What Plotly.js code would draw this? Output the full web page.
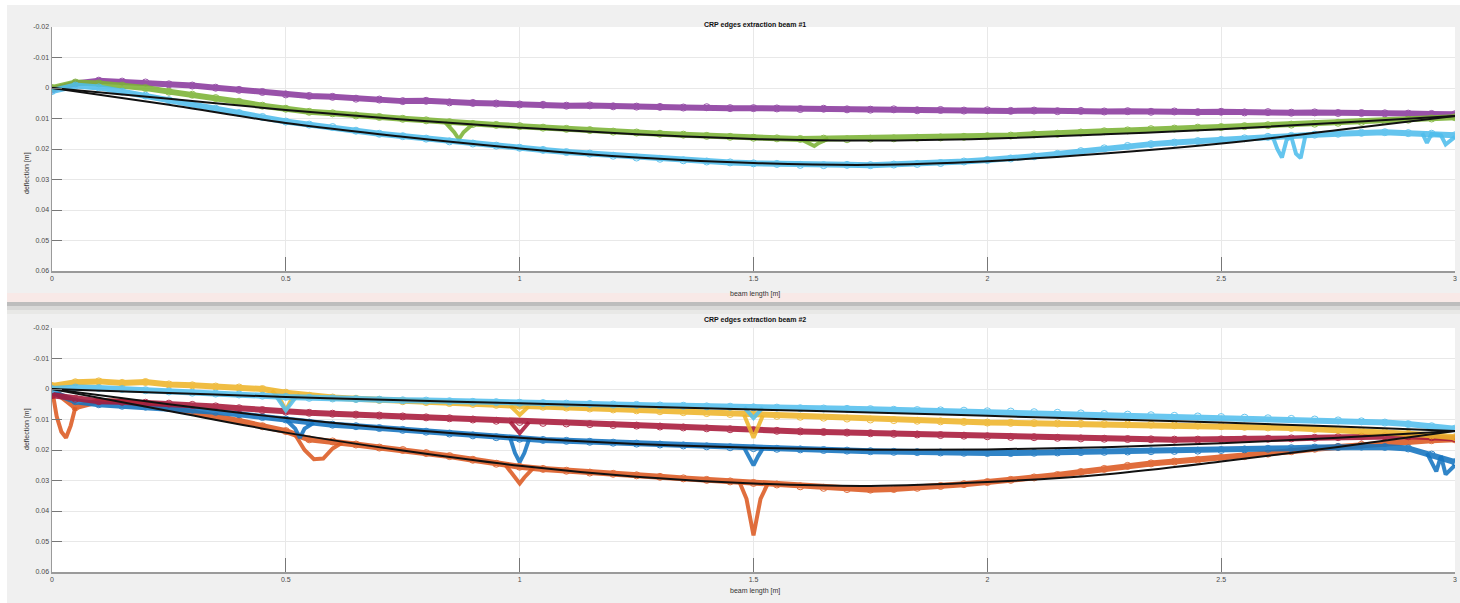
<!DOCTYPE html>
<html>
<head>
<meta charset="utf-8">
<script src="https://cdn.plot.ly/plotly-3.0.1.min.js"></script>
<style>
html,body{margin:0;padding:0;background:#ffffff;}
#chart{width:1460px;height:603px;}
</style>
</head>
<body>
<div id="chart"></div>
<script>
// ---------- data ----------
const titles = ["CRP edges extraction beam #1", "CRP edges extraction beam #2"];
const xLabel = "beam length [m]";
const yLabel = "deflection [m]";
const xTickVals = [0, 0.5, 1, 1.5, 2, 2.5, 3];
const xTickText = ["0", "0.5", "1", "1.5", "2", "2.5", "3"];
const yTickVals = [-0.02, -0.01, 0, 0.01, 0.02, 0.03, 0.04, 0.05, 0.06];
const yTickText = ["-0.02", "-0.01", "0", "0.01", "0.02", "0.03", "0.04", "0.05", "0.06"];

const X = [0,0.05,0.1,0.15,0.2,0.25,0.3,0.35,0.4,0.45,0.5,0.55,0.6,0.65,0.7,0.75,0.8,0.85,0.9,0.95,
  1,1.05,1.1,1.15,1.2,1.25,1.3,1.35,1.4,1.45,1.5,1.55,1.6,1.65,1.7,1.75,1.8,1.85,1.9,1.95,
  2,2.05,2.1,2.15,2.2,2.25,2.3,2.35,2.4,2.45,2.5,2.55,2.6,2.65,2.7,2.75,2.8,2.85,2.9,2.95,3];
const XM = [0,0.25,0.5,0.75,1,1.25,1.5,1.75,2,2.25,2.5,2.75,3];

// beam #1 measured edges
const purple1 = [0.0005,-0.0015,-0.0024,-0.0021,-0.0018,-0.0012,-0.0008,-0.0001,0.0006,0.0013,0.0021,0.0026,0.0029,0.0035,0.0038,0.0043,0.0042,0.0047,0.0049,0.0051,
  0.0054,0.0055,0.0058,0.0057,0.0060,0.0061,0.0062,0.0064,0.0063,0.0066,0.0066,0.0067,0.0069,0.0068,0.0070,0.0071,0.0070,0.0073,0.0072,0.0074,
  0.0073,0.0075,0.0074,0.0076,0.0075,0.0077,0.0076,0.0078,0.0077,0.0079,0.0078,0.0080,0.0079,0.0081,0.0080,0.0082,0.0082,0.0083,0.0084,0.0085,0.0086];
const green1 = [0.0,-0.0018,-0.0015,-0.0008,0.0,0.0012,0.0022,0.0033,0.0045,0.0058,0.0068,0.0078,0.0083,0.0090,0.0095,0.0101,0.0106,0.0112,0.0118,0.0121,
  0.0125,0.0130,0.0134,0.0138,0.0143,0.0146,0.0150,0.0153,0.0157,0.0160,0.0163,0.0165,0.0167,0.0166,0.0168,0.0166,0.0165,0.0163,0.0162,0.0160,
  0.0158,0.0156,0.0152,0.0150,0.0146,0.0142,0.0139,0.0135,0.0133,0.0130,0.0128,0.0125,0.0122,0.0120,0.0117,0.0114,0.0111,0.0108,0.0104,0.0100,0.0096];
const cyan1 = [0.0010,-0.0008,-0.0002,0.0012,0.0025,0.0040,0.0056,0.0068,0.0082,0.0095,0.0110,0.0120,0.0128,0.0140,0.0150,0.0158,0.0166,0.0175,0.0182,0.0189,
  0.0196,0.0203,0.0210,0.0215,0.0222,0.0228,0.0232,0.0237,0.0241,0.0244,0.0247,0.0249,0.0252,0.0253,0.0252,0.0253,0.0251,0.0249,0.0246,0.0241,
  0.0236,0.0231,0.0224,0.0216,0.0207,0.0198,0.0190,0.0184,0.0179,0.0174,0.0170,0.0165,0.0160,0.0157,0.0153,0.0150,0.0147,0.0145,0.0148,0.0150,0.0155];
// beam #1 model curves
const greenModel1 = [0,0.0035,0.0072,0.0103,0.0130,0.0152,0.0167,0.0172,0.0166,0.0152,0.0135,0.0114,0.0092];
const cyanModel1  = [0,0.0055,0.0115,0.0160,0.0198,0.0228,0.0246,0.0252,0.0240,0.0215,0.0182,0.0138,0.0092];

// beam #2 measured edges
const lightBlue2 = [0.0,-0.0005,-0.0003,0.0,0.0004,0.0008,0.0012,0.0015,0.0018,0.0022,0.0026,0.0029,0.0031,0.0033,0.0035,0.0037,0.0038,0.0040,0.0042,0.0043,
  0.0045,0.0046,0.0048,0.0049,0.0051,0.0052,0.0054,0.0055,0.0057,0.0058,0.0060,0.0061,0.0063,0.0064,0.0065,0.0066,0.0068,0.0069,0.0070,0.0071,
  0.0073,0.0074,0.0076,0.0078,0.0080,0.0082,0.0084,0.0086,0.0088,0.0090,0.0092,0.0094,0.0096,0.0098,0.0100,0.0103,0.0106,0.0110,0.0115,0.0122,0.0130];
const yellow2 = [-0.0010,-0.0022,-0.0025,-0.0020,-0.0023,-0.0015,-0.0012,-0.0008,-0.0005,0.0,0.0012,0.0022,0.0028,0.0032,0.0036,0.0040,0.0043,0.0046,0.0049,0.0052,
  0.0055,0.0058,0.0061,0.0064,0.0067,0.0070,0.0073,0.0076,0.0079,0.0082,0.0085,0.0088,0.0091,0.0094,0.0097,0.0100,0.0102,0.0104,0.0106,0.0108,
  0.0110,0.0111,0.0112,0.0113,0.0114,0.0115,0.0116,0.0117,0.0119,0.0120,0.0122,0.0124,0.0126,0.0128,0.0131,0.0134,0.0138,0.0142,0.0147,0.0152,0.0158];
const red2 = [0.0020,0.0032,0.0040,0.0042,0.0045,0.0048,0.0052,0.0057,0.0063,0.0069,0.0074,0.0078,0.0081,0.0084,0.0087,0.0090,0.0093,0.0096,0.0100,0.0104,
  0.0108,0.0111,0.0113,0.0115,0.0118,0.0120,0.0123,0.0126,0.0129,0.0132,0.0135,0.0137,0.0139,0.0141,0.0143,0.0145,0.0147,0.0149,0.0151,0.0153,
  0.0155,0.0157,0.0158,0.0160,0.0162,0.0163,0.0164,0.0165,0.0166,0.0166,0.0165,0.0164,0.0163,0.0162,0.0160,0.0158,0.0156,0.0155,0.0155,0.0158,0.0162];
const blue2 = [0.0010,0.0040,0.0050,0.0055,0.0058,0.0062,0.0068,0.0075,0.0083,0.0092,0.0100,0.0110,0.0117,0.0122,0.0128,0.0134,0.0140,0.0146,0.0152,0.0158,
  0.0163,0.0167,0.0170,0.0173,0.0176,0.0179,0.0182,0.0185,0.0188,0.0191,0.0194,0.0196,0.0198,0.0200,0.0202,0.0204,0.0206,0.0207,0.0208,0.0209,
  0.0210,0.0210,0.0209,0.0208,0.0207,0.0206,0.0205,0.0204,0.0203,0.0202,0.0200,0.0198,0.0196,0.0194,0.0192,0.0190,0.0189,0.0190,0.0195,0.0215,0.0240];
const orange2 = [0.0,0.0060,0.0040,0.0042,0.0050,0.0062,0.0075,0.0090,0.0105,0.0122,0.0138,0.0165,0.0172,0.0182,0.0192,0.0200,0.0210,0.0220,0.0232,0.0245,
  0.0255,0.0262,0.0268,0.0274,0.0278,0.0283,0.0288,0.0293,0.0298,0.0303,0.0308,0.0313,0.0319,0.0324,0.0328,0.0330,0.0328,0.0324,0.0318,0.0312,
  0.0305,0.0298,0.0290,0.0282,0.0272,0.0262,0.0252,0.0244,0.0238,0.0232,0.0226,0.0220,0.0212,0.0204,0.0196,0.0190,0.0183,0.0177,0.0172,0.0168,0.0165];
// beam #2 model curves
const lightBlueModel2 = [0,0.0013,0.0026,0.0037,0.0047,0.0057,0.0067,0.0077,0.0088,0.0099,0.0110,0.0123,0.0138];
const blueModel2      = [0,0.0050,0.0095,0.0132,0.0160,0.0180,0.0193,0.0199,0.0198,0.0191,0.0178,0.0160,0.0138];
const orangeModel2    = [0,0.0072,0.0143,0.0202,0.0252,0.0288,0.0310,0.0318,0.0305,0.0280,0.0238,0.0190,0.0138];

// local dips / spikes
const greenDipX1 = [0.84,0.86,0.87,0.88,0.90];  const greenDipY1 = [0.0111,0.0145,0.0168,0.0145,0.0118];
const greenDipX2 = [1.60,1.62,1.63,1.64,1.66];  const greenDipY2 = [0.0167,0.0180,0.0190,0.0180,0.0166];
const cyanDipX1 = [2.61,2.62,2.63,2.64,2.65,2.66,2.67,2.68]; const cyanDipY1 = [0.0158,0.0200,0.0228,0.0170,0.0160,0.0215,0.0230,0.0157];
const cyanDipX2 = [2.93,2.94,2.95,2.97,2.98,3.0]; const cyanDipY2 = [0.0148,0.0180,0.0150,0.0155,0.0185,0.0160];
const orangeDipX0 = [0.0,0.01,0.02,0.03,0.04,0.05]; const orangeDipY0 = [0.0,0.0090,0.0140,0.0160,0.0120,0.0060];
const orangeDipX1 = [0.52,0.54,0.56,0.58,0.60,0.62]; const orangeDipY1 = [0.0150,0.0200,0.0230,0.0228,0.0195,0.0176];
const orangeDipX2 = [0.97,0.99,1.00,1.01,1.03]; const orangeDipY2 = [0.0250,0.0290,0.0310,0.0290,0.0258];
const orangeDipX3 = [1.47,1.485,1.495,1.50,1.505,1.515,1.53]; const orangeDipY3 = [0.0305,0.0360,0.0440,0.0480,0.0440,0.0360,0.0312];
const blueDipX1 = [0.50,0.52,0.53,0.54,0.56]; const blueDipY1 = [0.0100,0.0130,0.0160,0.0130,0.0111];
const blueDipX2 = [0.98,0.99,1.00,1.01,1.02]; const blueDipY2 = [0.0162,0.0210,0.0240,0.0210,0.0165];
const blueDipX3 = [1.48,1.49,1.50,1.51,1.52]; const blueDipY3 = [0.0193,0.0220,0.0250,0.0220,0.0195];
const blueDipX4 = [2.94,2.96,2.97,2.98,3.0]; const blueDipY4 = [0.0210,0.0270,0.0220,0.0280,0.0250];
const lightBlueDipX1 = [0.48,0.50,0.52]; const lightBlueDipY1 = [0.0025,0.0070,0.0030];
const lightBlueDipX2 = [1.48,1.50,1.52]; const lightBlueDipY2 = [0.0060,0.0095,0.0061];
const yellowDipX1 = [0.47,0.49,0.50,0.51,0.53]; const yellowDipY1 = [0.0005,0.0040,0.0070,0.0040,0.0018];
const yellowDipX2 = [0.98,1.00,1.02]; const yellowDipY2 = [0.0055,0.0085,0.0056];
const yellowDipX3 = [1.48,1.50,1.52]; const yellowDipY3 = [0.0085,0.0160,0.0087];
const redDipX1 = [0.98,1.00,1.02]; const redDipY1 = [0.0108,0.0145,0.0109];

// ---------- styling ----------
const C = {purple:"#8a3a9e", green:"#7cb335", cyan:"#4fbdec", lblue:"#55c0ee",
           yellow:"#eeb52a", red:"#a8193a", blue:"#1474c0", orange:"#dc5a22", black:"#111111"};
const BAND = 6;

function band(x, y, color, xa, ya) {
  return {x: x, y: y, xaxis: xa, yaxis: ya, type: "scatter", mode: "lines+markers",
          line: {color: color, width: BAND},
          marker: {symbol: "circle-open", size: 7, color: color, line: {width: 1}},
          opacity: 0.88, hoverinfo: "skip", showlegend: false};
}
function spike(x, y, color, xa, ya) {
  return {x: x, y: y, xaxis: xa, yaxis: ya, type: "scatter", mode: "lines",
          line: {color: color, width: 4}, opacity: 0.88, hoverinfo: "skip", showlegend: false};
}
function model(y, xa, ya) {
  return {x: XM, y: y, xaxis: xa, yaxis: ya, type: "scatter", mode: "lines",
          line: {color: C.black, width: 2, shape: "spline"}, hoverinfo: "skip", showlegend: false};
}

const traces = [
  band(X, purple1, C.purple, "x", "y"),
  band(X, green1, C.green, "x", "y"),
  spike(greenDipX1, greenDipY1, C.green, "x", "y"),
  spike(greenDipX2, greenDipY2, C.green, "x", "y"),
  band(X, cyan1, C.cyan, "x", "y"),
  spike(cyanDipX1, cyanDipY1, C.cyan, "x", "y"),
  spike(cyanDipX2, cyanDipY2, C.cyan, "x", "y"),
  model(greenModel1, "x", "y"),
  model(cyanModel1, "x", "y"),

  band(X, orange2, C.orange, "x2", "y2"),
  spike(orangeDipX0, orangeDipY0, C.orange, "x2", "y2"),
  spike(orangeDipX1, orangeDipY1, C.orange, "x2", "y2"),
  spike(orangeDipX2, orangeDipY2, C.orange, "x2", "y2"),
  spike(orangeDipX3, orangeDipY3, C.orange, "x2", "y2"),
  band(X, blue2, C.blue, "x2", "y2"),
  spike(blueDipX1, blueDipY1, C.blue, "x2", "y2"),
  spike(blueDipX2, blueDipY2, C.blue, "x2", "y2"),
  spike(blueDipX3, blueDipY3, C.blue, "x2", "y2"),
  spike(blueDipX4, blueDipY4, C.blue, "x2", "y2"),
  band(X, red2, C.red, "x2", "y2"),
  spike(redDipX1, redDipY1, C.red, "x2", "y2"),
  band(X, yellow2, C.yellow, "x2", "y2"),
  spike(yellowDipX1, yellowDipY1, C.yellow, "x2", "y2"),
  spike(yellowDipX2, yellowDipY2, C.yellow, "x2", "y2"),
  spike(yellowDipX3, yellowDipY3, C.yellow, "x2", "y2"),
  band(X, lightBlue2, C.lblue, "x2", "y2"),
  spike(lightBlueDipX1, lightBlueDipY1, C.lblue, "x2", "y2"),
  spike(lightBlueDipX2, lightBlueDipY2, C.lblue, "x2", "y2"),
  model(lightBlueModel2, "x2", "y2"),
  model(blueModel2, "x2", "y2"),
  model(orangeModel2, "x2", "y2")
];

const W = 1460, H = 603;
const px = v => v / W, py = v => 1 - v / H;
const tickFont = {family: "Liberation Sans, Arial, sans-serif", size: 7, color: "#4a4a4a"};

function xAxis(anchor) {
  return {domain: [px(52), px(1455)], anchor: anchor, range: [0, 3],
          tickvals: xTickVals, ticktext: xTickText, ticks: "inside", ticklen: 14,
          tickcolor: "#777", tickwidth: 1, showgrid: true, gridcolor: "#e8e8e8",
          showline: true, linecolor: "#9a9a9a", linewidth: 1.5, zeroline: false,
          tickfont: tickFont, fixedrange: true};
}
function yAxis(anchor, top, bottom) {
  return {domain: [py(bottom), py(top)], anchor: anchor, range: [0.06, -0.02],
          tickvals: yTickVals, ticktext: yTickText, ticks: "inside", ticklen: 10,
          tickcolor: "#777", tickwidth: 1, showgrid: true, gridcolor: "#e8e8e8",
          showline: true, linecolor: "#9a9a9a", linewidth: 1.5, zeroline: false,
          tickfont: tickFont, fixedrange: true};
}

const labelFont = {family: "Liberation Sans, Arial, sans-serif", size: 7, color: "#333"};
const titleFont = {family: "Liberation Sans, Arial, sans-serif", size: 7, color: "#111", weight: "bold"};

const layout = {
  width: W, height: H,
  margin: {l: 0, r: 0, t: 0, b: 0},
  paper_bgcolor: "#f0f0f0", plot_bgcolor: "#ffffff",
  showlegend: false,
  xaxis: xAxis("y"), yaxis: yAxis("x", 27, 271),
  xaxis2: xAxis("y2"), yaxis2: yAxis("x2", 328, 572),
  shapes: [
    {type: "rect", xref: "paper", yref: "paper", x0: 0, x1: 1, y0: py(5), y1: 1, fillcolor: "#ffffff", line: {width: 0}, layer: "below"},
    {type: "rect", xref: "paper", yref: "paper", x0: 0, x1: px(7), y0: 0, y1: 1, fillcolor: "#ffffff", line: {width: 0}, layer: "below"},
    {type: "rect", xref: "paper", yref: "paper", x0: px(7), x1: 1, y0: py(302), y1: py(293), fillcolor: "#f8e9e7", line: {width: 0}, layer: "below"},
    {type: "rect", xref: "paper", yref: "paper", x0: px(7), x1: 1, y0: py(306), y1: py(302), fillcolor: "#bdbdbd", line: {width: 0}, layer: "below"},
    {type: "rect", xref: "paper", yref: "paper", x0: px(7), x1: 1, y0: py(310), y1: py(306), fillcolor: "#d9d9d8", line: {width: 0}, layer: "below"},
    {type: "rect", xref: "paper", yref: "paper", x0: px(7), x1: 1, y0: py(314), y1: py(310), fillcolor: "#e8e8e6", line: {width: 0}, layer: "below"}
  ],
  annotations: [
    {text: titles[0], xref: "paper", yref: "paper", x: px(755), y: py(19), showarrow: false, font: titleFont},
    {text: titles[1], xref: "paper", yref: "paper", x: px(755), y: py(320), showarrow: false, font: titleFont},
    {text: xLabel, xref: "paper", yref: "paper", x: px(755), y: py(294), showarrow: false, font: labelFont},
    {text: xLabel, xref: "paper", yref: "paper", x: px(755), y: py(597), showarrow: false, font: labelFont},
    {text: yLabel, xref: "paper", yref: "paper", x: px(21), y: py(150), showarrow: false, textangle: -90, font: labelFont},
    {text: yLabel, xref: "paper", yref: "paper", x: px(21), y: py(452), showarrow: false, textangle: -90, font: labelFont}
  ]
};

Plotly.newPlot("chart", traces, layout, {staticPlot: true, displayModeBar: false});
</script>
</body>
</html>
